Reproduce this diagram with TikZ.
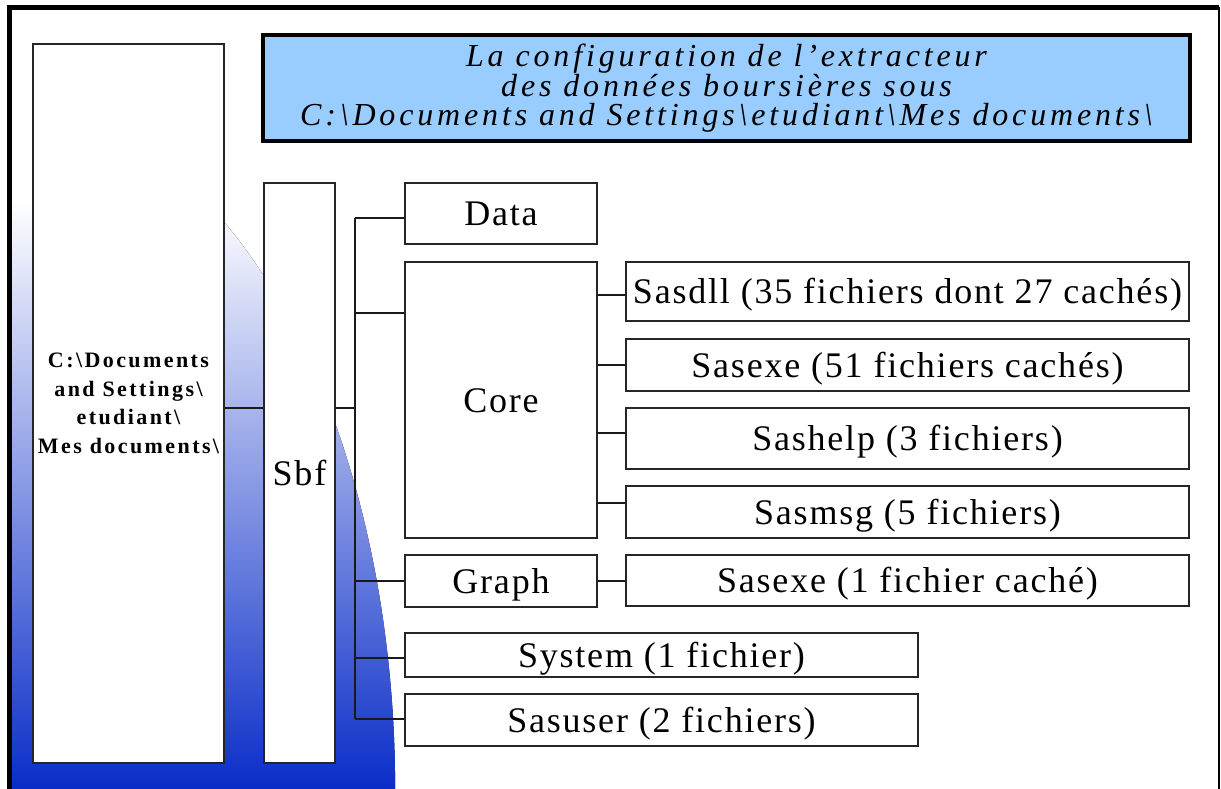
\documentclass[tikz,border=0pt]{standalone}
\usepackage{fontspec}
\setmainfont{Liberation Serif}
\newfontfamily\lblfont[LetterSpace=5]{Liberation Serif}
\newfontfamily\rootfont[LetterSpace=11]{Liberation Serif}
\newfontfamily\titlefont[LetterSpace=12]{Liberation Serif}
\definecolor{titleblue}{RGB}{153,204,255}
\definecolor{deepblue}{RGB}{10,45,200}

\begin{document}
\begin{tikzpicture}[x=1pt,y=-1pt,
				box/.style={draw=black!85,line width=1.2pt,fill=white,inner sep=0pt,
				text height=24pt,text depth=0pt,
				font=\lblfont\fontsize{36}{40}\selectfont},
				wire/.style={draw=black!90,line width=1.2pt}]
				\useasboundingbox (0,0) rectangle (1221,789);
				
				\fill[top color=white,middle color=deepblue!32!white,bottom color=deepblue]
				(12,789) -- (12,200) -- (204.2,200) arc[start angle=-59.9,end angle=0,x radius=383,y radius=681] -- cycle;
				\draw[line width=5pt] (9.5,789) -- (9.5,7.5) -- (1219,7.5);
				\draw[line width=2pt] (1219,7.5) -- (1219,789);
				
				\node[box,minimum width=191,minimum height=719,text height=,text depth=,
				font=\rootfont\bfseries\fontsize{22}{28.5}\selectfont,align=center] (root) at (128.5,403.5)
				{C:\textbackslash Documents\\and Settings\textbackslash\\etudiant\textbackslash\\Mes documents\textbackslash};
				\node[box,draw=black,line width=4pt,fill=titleblue,minimum width=927,minimum height=106,
				text height=,text depth=,
				font=\titlefont\itshape\fontsize{32}{28.5}\selectfont,align=center] (title) at (726.5,88)
				{La configuration de l’extracteur\\des données boursières sous\\C:\textbackslash Documents and Settings\textbackslash etudiant\textbackslash Mes documents\textbackslash};
				
				\node[box,minimum width=71,minimum height=580] (sbf) at (299.5,473) {Sbf};
				\node[box,minimum width=192,minimum height=61] (data) at (501,213.5) {Data};
				\node[box,minimum width=192,minimum height=276] (core) at (501,400) {Core};
				\node[box,minimum width=192,minimum height=52] (graph) at (501,581) {Graph};
				\node[box,minimum width=513,minimum height=44] (system) at (661.5,655) {System (1 fichier)};
				\node[box,minimum width=513,minimum height=52] (sasuser) at (661.5,720) {Sasuser (2 fichiers)};
				
				\node[box,minimum width=563,minimum height=59] (sasdll) at (907.5,291.5) {Sasdll (35 fichiers dont 27 cachés)};
				\node[box,minimum width=563,minimum height=52] (sasexe) at (907.5,365) {Sasexe (51 fichiers cachés)};
				\node[box,minimum width=563,minimum height=61] (sashelp) at (907.5,438.5) {Sashelp (3 fichiers)};
				\node[box,minimum width=563,minimum height=52] (sasmsg) at (907.5,512) {Sasmsg (5 fichiers)};
				\node[box,minimum width=563,minimum height=51] (sasgraph) at (907.5,580.5) {Sasexe (1 fichier caché)};
				
				\coordinate (trunk) at (355,408);
				\draw[wire] (root.east |- trunk) -- (sbf.west |- trunk);
				\draw[wire] (sbf.east |- trunk) -- (trunk);
				\draw[wire] (trunk |- 0,218) -- (trunk |- 0,719);
				\foreach \n/\y in {data/218,core/313,graph/581,system/658,sasuser/719}
				\draw[wire] (trunk |- 0,\y) -- (\n.west |- 0,\y);
				\foreach \n/\y in {sasdll/295,sasexe/365,sashelp/433,sasmsg/503}
				\draw[wire] (core.east |- 0,\y) -- (\n.west |- 0,\y);
				\draw[wire] (graph.east |- 0,581) -- (sasgraph.west |- 0,581);
\end{tikzpicture}
\end{document}
